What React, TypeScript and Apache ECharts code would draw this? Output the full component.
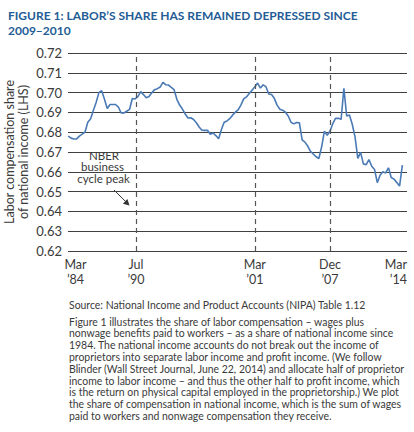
import React, { useEffect, useRef } from "react";
import * as echarts from "echarts";

// Quarterly labor compensation share of national income
const laborShare = [
  0.678, 0.677, 0.6766, 0.6766, 0.678, 0.679, 0.68, 0.685, 0.6867, 0.691,
  0.695, 0.7, 0.701, 0.6966, 0.692, 0.694, 0.694, 0.694, 0.6927, 0.6897,
  0.6897, 0.6906, 0.6915, 0.697, 0.6968, 0.698, 0.7005, 0.699, 0.6974, 0.698,
  0.6999, 0.7015, 0.702, 0.7028, 0.7052, 0.704, 0.7038, 0.7026, 0.7015, 0.6966,
  0.6937, 0.6917, 0.6892, 0.6872, 0.6873, 0.6864, 0.6848, 0.6826, 0.681, 0.6809,
  0.681, 0.679, 0.6796, 0.6783, 0.6767, 0.6814, 0.685, 0.6857, 0.6868, 0.6886,
  0.6901, 0.6913, 0.6937, 0.6968, 0.6978, 0.6995, 0.7012, 0.7029, 0.7048, 0.7023,
  0.7039, 0.703, 0.6993, 0.699, 0.6971, 0.6937, 0.6916, 0.6911, 0.6901, 0.6882,
  0.685, 0.6842, 0.6849, 0.6848, 0.6761, 0.675, 0.673, 0.6703, 0.669, 0.6676,
  0.6667, 0.6726, 0.6805, 0.6785, 0.6805, 0.6843, 0.687, 0.687, 0.6865, 0.7022,
  0.6882, 0.6887, 0.684, 0.6776, 0.6668, 0.6698, 0.664, 0.6636, 0.6662, 0.6628,
  0.6612, 0.6545, 0.6583, 0.66, 0.6594, 0.662, 0.6571, 0.6563, 0.6546, 0.6528, 0.6634,
];

// x positions in months counted from January 1984
const FIRST_MONTH = 5;
const X_MIN = 4.7;
const X_MAX = 370;
const quarterMonths = laborShare.map((_, i) => FIRST_MONTH + 3 * i);

// NBER business cycle peaks (months from Jan 1984): Jul 1990, Mar 2001, Dec 2007
const nberPeakMonths = [78, 206, 287];

const tickMonths = [12.8, 78, 206, 287, X_MAX];
const tickLabels = ["Mar\n’84", "Jul\n’90", "Mar\n’01", "Dec\n’07", "Mar\n’14"];

const Y_MIN = 0.62;
const Y_MAX = 0.72;
const Y_STEP = 0.01;

const titleText = "FIGURE 1: LABOR’S SHARE HAS REMAINED DEPRESSED SINCE\n2009–2010";
const yAxisName = "Labor compensation share\nof national income (LHS)";
const annotationLines = ["NBER", "business", "cycle peak"];
const sourceText = "Source: National Income and Product Accounts (NIPA) Table 1.12";
const bodyLines = [
  "Figure 1 illustrates the share of labor compensation – wages plus",
  "nonwage benefits paid to workers – as a share of national income since",
  "1984. The national income accounts do not break out the income of",
  "proprietors into separate labor income and profit income. (We follow",
  "Blinder (Wall Street Journal, June 22, 2014) and allocate half of proprietor",
  "income to labor income – and thus the other half to profit income, which",
  "is the return on physical capital employed in the proprietorship.) We plot",
  "the share of compensation in national income, which is the sum of wages",
  "paid to workers and nonwage compensation they receive.",
];

const FONT = "Lato, 'Open Sans', sans-serif";
const TEXT_COLOR = "#3a3a3a";

export default function App() {
  const ref = useRef<HTMLDivElement>(null);

  useEffect(() => {
    document.body.style.margin = "0";
    if (!ref.current) return;
    const chart = echarts.init(ref.current, undefined, { renderer: "svg" });

    const annotationCenters = [104, 102.5, 103.5];
    const annotationY = [155, 166.7, 178.3];

    const option: any = {
      animation: false,
      backgroundColor: "#ffffff",
      title: {
        text: titleText,
        left: 3,
        top: 3,
        textStyle: {
          fontFamily: FONT,
          fontWeight: "bold",
          fontSize: 12,
          lineHeight: 15,
          color: "#245c96",
        },
      },
      grid: {
        left: 68,
        right: 7,
        top: 53,
        bottom: 181,
        containLabel: false,
        outerBoundsMode: "none",
      },
      xAxis: {
        type: "value",
        min: X_MIN,
        max: X_MAX,
        axisLine: { show: false },
        axisTick: { show: false },
        splitLine: { show: false },
        axisLabel: {
          customValues: tickMonths,
          alignMinLabel: "center",
          alignMaxLabel: "right",
          margin: 5.5,
          fontFamily: FONT,
          fontSize: 12.5,
          lineHeight: 15,
          color: TEXT_COLOR,
          formatter: (v: number) => {
            let best = 0;
            tickMonths.forEach((m, i) => {
              if (Math.abs(m - v) < Math.abs(tickMonths[best] - v)) best = i;
            });
            return tickLabels[best];
          },
        },
      },
      yAxis: {
        type: "value",
        min: Y_MIN,
        max: Y_MAX,
        interval: Y_STEP,
        name: yAxisName,
        nameLocation: "middle",
        nameRotate: 90,
        nameGap: 38,
        nameMoveOverlap: false,
        nameTextStyle: {
          fontFamily: FONT,
          fontSize: 12.5,
          lineHeight: 14,
          color: TEXT_COLOR,
        },
        axisLine: { show: false },
        axisTick: { show: false },
        axisLabel: {
          margin: 6,
          fontFamily: FONT,
          fontSize: 13,
          color: TEXT_COLOR,
          formatter: (v: number) => v.toFixed(2),
        },
        splitLine: { show: true, lineStyle: { color: "#404040", width: 1 } },
      },
      series: [
        {
          type: "line",
          data: quarterMonths.map((m, i) => [m, laborShare[i]]),
          showSymbol: false,
          symbol: "none",
          lineStyle: { color: "#4a7ab5", width: 1.6 },
          markLine: {
            silent: true,
            symbol: ["none", "none"],
            label: { show: false },
            lineStyle: { type: [5, 4], color: "#555555", width: 1.2 },
            data: nberPeakMonths.map((m) => ({ xAxis: m })),
          },
        },
      ],
      graphic: [
        ...annotationLines.map((t, i) => ({
          type: "text",
          x: annotationCenters[i],
          y: annotationY[i],
          style: {
            text: t,
            fontFamily: FONT,
            fontSize: 11.5,
            fill: TEXT_COLOR,
            textAlign: "center",
            textVerticalAlign: "middle",
          },
        })),
        {
          type: "line",
          shape: { x1: 114, y1: 190, x2: 126.3, y2: 202.2 },
          style: { stroke: "#333333", lineWidth: 1 },
        },
        {
          type: "polygon",
          shape: { points: [[129.5, 205.5], [122.9, 203.7], [127.4, 199.1]] },
          style: { fill: "#333333" },
        },
        {
          type: "text",
          x: 69,
          y: 299,
          style: {
            text: sourceText,
            fontFamily: FONT,
            fontSize: 10.45,
            lineHeight: 11.8,
            fill: TEXT_COLOR,
            textVerticalAlign: "top",
          },
        },
        {
          type: "text",
          x: 69,
          y: 315.8,
          style: {
            text: bodyLines.join("\n"),
            fontFamily: FONT,
            fontSize: 10.45,
            lineHeight: 11.8,
            fill: TEXT_COLOR,
            textVerticalAlign: "top",
          },
        },
      ],
    };

    chart.setOption(option);
    return () => chart.dispose();
  }, []);

  return <div ref={ref} style={{ width: 414, height: 432 }} />;
}
